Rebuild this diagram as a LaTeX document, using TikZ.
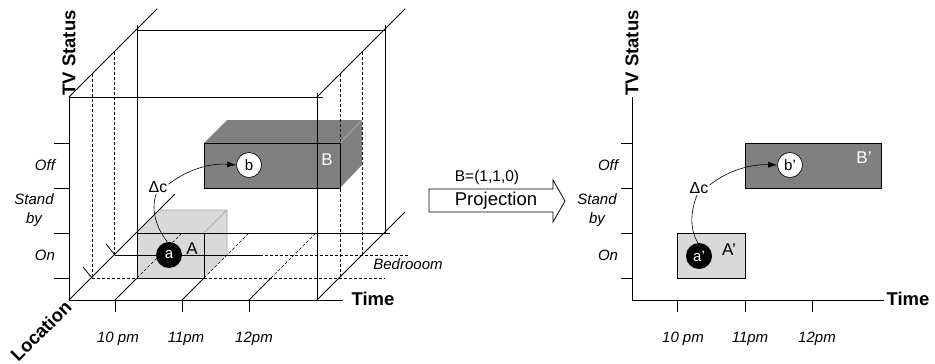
\documentclass[tikz,border=0pt]{standalone}
\usepackage{fontspec}
\setmainfont{Liberation Sans}
\usetikzlibrary{arrows.meta, positioning, calc}
\definecolor{boxdark}{RGB}{128, 128, 128}
\definecolor{boxlight}{RGB}{217, 217, 217}
\definecolor{edgegray}{RGB}{165, 165, 165}

\begin{document}
\begin{tikzpicture}[x=1pt, y=-1pt,
      ln/.style={line width=0.8pt},
      dsh/.style={line width=0.6pt, dash pattern=on 3pt off 2pt},
      lbl/.style={font=\fontsize{15}{19}\selectfont\itshape,
                  align=center, inner sep=0pt},
      axlbl/.style={font=\fontsize{18.5}{20}\selectfont\bfseries,
                    inner sep=0pt},
      ball/.style={circle, minimum size=26pt, inner sep=0pt,
                   font=\fontsize{15}{15}\selectfont},
      boxlbl/.style={font=\fontsize{17}{17}\selectfont, inner sep=0pt},
      delta/.style={font=\fontsize{16}{16}\selectfont, inner sep=1pt},
      arr/.style={line width=0.6pt, -{Latex[length=9pt, width=6pt]}},
  ]
  \useasboundingbox (0,0) rectangle (935,364);

  % 3D view
  \fill[boxlight] (137,233) -- (160,210) -- (227,210) -- (227,255)
      -- (204,278) -- (137,278) -- cycle;
  \draw[edgegray, line width=0.6pt] (160,210) -- (227,210) -- (227,255)
      (204,233) -- (227,210);
  \draw[ln] (137,233) rectangle (204,278);
  \fill[boxdark] (204,188) -- (204,143) -- (227,120) -- (362,120)
      -- (362,165) -- (340,188) -- cycle;
  \draw[gray!60, line width=0.5pt] (340,143) -- (362,120);
  \draw[ln] (204,143) rectangle (340,188);

  \draw[ln] (69,97) -- (69,300) -- (343,300);
  \draw[ln] (69,97) -- (323,97);
  \draw[ln] (317,93) -- (317,300);
  \draw[ln] (69,300) -- (175,194);
  \draw[ln] (69,97) -- (157,9);
  \draw[ln] (317,97) -- (405,9);
  \draw[ln] (317,300) -- (405,212);
  \draw[ln] (137,30) -- (385,30);
  \draw[ln] (137,25) -- (137,233) -- (390,233);
  \draw[ln] (385,25) -- (385,233);
  \draw[ln] (115,255) -- (260,255);
  \draw[dsh] (260,255) -- (408,255);
  \draw[dsh] (92,278) -- (137,278) (204,278) -- (385,278);
  \draw[dsh] (92,74) -- (92,278) (114,52) -- (114,255);
  \draw[dsh] (340,74) -- (340,278) (362,52) -- (362,255);
  \draw[ln] (83,267) -- (92,278) (106,244) -- (115,255);
  \foreach \x in {115,182,249} {
    \draw[ln] (\x,300) -- (\x,312);
    \draw[ln] (\x,300) -- ++(22,-22);
    \draw[dsh] (\x+22,278) -- ++(45,-45);
  }
  \foreach \y in {143,188,233,278}
    \draw[ln] (54,\y) -- (69,\y);

  \node[axlbl, rotate=90] (tv) at (69,53) {TV Status};
  \node[axlbl] (time) at (373,299) {Time};
  \node[axlbl, rotate=45] (loc) at (41,331) {Location};
  \node[lbl] (off) at (45,165) {Off};
  \node[lbl] (stand) at (34,210) {Stand\\by};
  \node[lbl] (on) at (45,255) {On};
  \node[lbl] (t10) at (118,339) {10 pm};
  \node[lbl] (t11) at (186,339) {11pm};
  \node[lbl] (t12) at (254,339) {12pm};
  \node[lbl] (bed) at (408,264) {Bedrooom};

  \node[ball, fill=black, text=white] (a) at (169,255) {a};
  \node[boxlbl] (A) at (192,249) {A};
  \node[ball, fill=white, draw, line width=0.6pt,
        minimum size=25pt] (b) at (249,165) {b};
  \node[boxlbl, text=white] (B) at (327,160) {B};
  \node[delta] (dc) at (158,187) {Δc};
  \draw[line width=0.6pt] (a.97) .. controls (158,230) and (150,212)
      .. (dc.255);
  \draw[arr] (dc.15) .. controls (190,168) and (212,163) .. (b.west);

  % projection
  \draw[ln] (429,189) -- (553,189) -- (553,180) -- (565,201)
      -- (553,222) -- (553,212) -- (429,212) -- cycle;
  \node[font=\fontsize{18.5}{20}\selectfont, inner sep=0pt] (proj)
      at (496,201) {Projection};
  \node[font=\fontsize{15.5}{16}\selectfont, inner sep=0pt] (bvec)
      at (487,177) {B=(1,1,0)};

  % 2D view
  \draw[ln, fill=boxlight] (677,233) rectangle (745,278);
  \draw[ln, fill=boxdark] (745,143) rectangle (881,188);
  \draw[ln] (632,97) -- (632,300) -- (884,300);
  \foreach \y in {143,188,233,278}
    \draw[ln] (621,\y) -- (632,\y);
  \foreach \x in {677,745,812}
    \draw[ln] (\x,300) -- (\x,312);

  \node[axlbl, rotate=90] (tv2) at (632,53) {TV Status};
  \node[axlbl] (time2) at (908,299) {Time};
  \node[lbl] (off2) at (608,165) {Off};
  \node[lbl] (stand2) at (597,210) {Stand\\by};
  \node[lbl] (on2) at (608,255) {On};
  \node[lbl] (t10b) at (683,339) {10 pm};
  \node[lbl] (t11b) at (750,339) {11pm};
  \node[lbl] (t12b) at (817,339) {12pm};

  \node[ball, fill=black, text=white] (a2) at (699,256) {a’};
  \node[boxlbl] (A2) at (729,250) {A’};
  \node[ball, fill=white, draw, line width=0.6pt,
        minimum size=25pt] (b2) at (790,165) {b’};
  \node[boxlbl, text=white] (B2) at (864,158) {B’};
  \node[delta] (dc2) at (699,188) {Δc};
  \draw[line width=0.6pt] (a2.95) .. controls (690,230) and (690,212)
      .. (dc2.255);
  \draw[arr] (dc2.15) .. controls (728,170) and (752,164) .. (b2.west);
\end{tikzpicture}
\end{document}
